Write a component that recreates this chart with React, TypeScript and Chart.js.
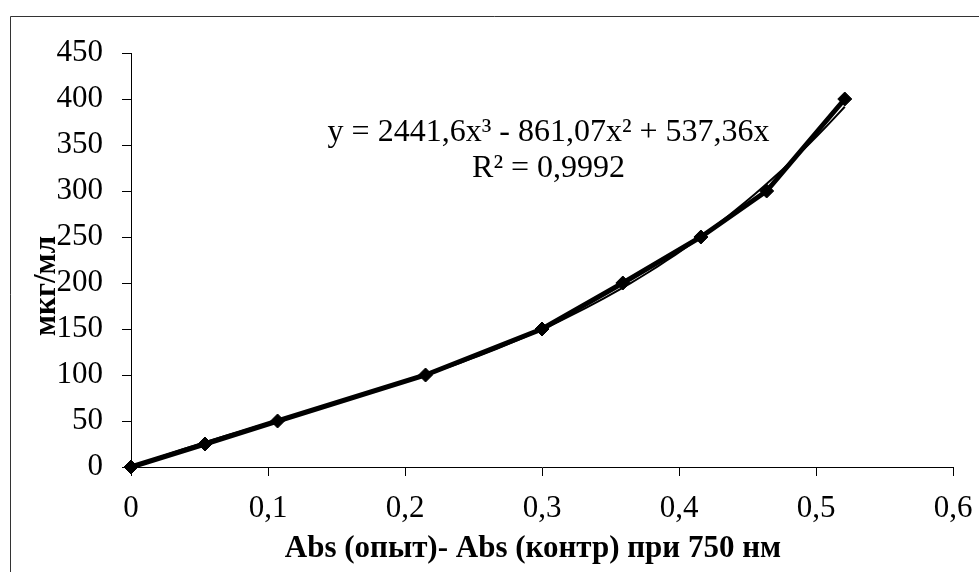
import React, { useEffect, useRef } from 'react';
import { Chart, registerables } from 'chart.js';

Chart.register(...registerables);

// ---- data ----
const absValues = [0, 0.054, 0.107, 0.215, 0.3, 0.359, 0.416, 0.464, 0.521];
const concValues = [0, 25, 50, 100, 150, 200, 250, 300, 400];
// polynomial trendline printed on the chart: c0 + c1 x + c2 x^2 + c3 x^3
const trendCoeffs = [0, 537.36, -861.07, 2441.6];
const xTickValues = [0, 0.1, 0.2, 0.3, 0.4, 0.5, 0.6];
const xTickLabels = ['0', '0,1', '0,2', '0,3', '0,4', '0,5', '0,6'];
const yTickValues = [0, 50, 100, 150, 200, 250, 300, 350, 400, 450];
const yTickLabels = ['0', '50', '100', '150', '200', '250', '300', '350', '400', '450'];
const xTitle = 'Abs (опыт)- Abs (контр) при 750 нм';
const yTitle = 'мкг/мл';
const equationLines = ['y = 2441,6x³ - 861,07x² + 537,36x', 'R² = 0,9992'];

const FONT = '"Liberation Serif", "Times New Roman", serif';

function trendPoints() {
  const xmax = Math.max(...absValues);
  const n = 80;
  const pts: { x: number; y: number }[] = [];
  for (let i = 0; i <= n; i++) {
    const x = (xmax * i) / n;
    let y = 0;
    for (let k = 0; k < trendCoeffs.length; k++) y += trendCoeffs[k] * Math.pow(x, k);
    pts.push({ x, y });
  }
  return pts;
}

const decorPlugin = {
  id: 'decor',
  afterDraw(chart: any) {
    const ctx = chart.ctx as CanvasRenderingContext2D;
    const area = chart.chartArea;
    ctx.save();
    // outer frame (only top and left edges fall inside the picture)
    ctx.strokeStyle = '#333';
    ctx.lineWidth = 1;
    ctx.beginPath();
    ctx.moveTo(10.5, chart.height);
    ctx.lineTo(10.5, 16.5);
    ctx.lineTo(chart.width, 16.5);
    ctx.stroke();

    ctx.fillStyle = '#000';
    // equation
    ctx.font = `32px ${FONT}`;
    ctx.textAlign = 'center';
    ctx.textBaseline = 'alphabetic';
    const eqX = area.left + (area.right - area.left) * 0.508;
    ctx.fillText(equationLines[0], eqX, 141);
    ctx.fillText(equationLines[1], eqX, 177);

    // x title
    ctx.font = `bold 31px ${FONT}`;
    ctx.fillText(xTitle, 533, 557);

    // y title
    ctx.translate(55, 286);
    ctx.rotate(-Math.PI / 2);
    ctx.fillText(yTitle, 0, 0);
    ctx.restore();
  },
};

export default function App() {
  const ref = useRef<HTMLCanvasElement | null>(null);
  useEffect(() => {
    if (!ref.current) return;
    const chart = new Chart(ref.current, {
      type: 'line',
      data: {
        datasets: [
          {
            label: 'trend',
            data: trendPoints(),
            borderColor: '#000',
            borderWidth: 2,
            pointRadius: 0,
            tension: 0,
            clip: false as any,
          },
          {
            label: 'мкг/мл',
            data: absValues.map((x, i) => ({ x, y: concValues[i] })),
            borderColor: '#000',
            backgroundColor: '#000',
            borderWidth: 5,
            pointStyle: 'rectRot',
            pointRadius: 7,
            pointBorderWidth: 1,
            pointBackgroundColor: '#000',
            pointBorderColor: '#000',
            tension: 0,
            clip: false as any,
          },
        ],
      },
      options: {
        animation: false,
        responsive: false,
        layout: { padding: { left: 0, top: 53, right: 26, bottom: 0 } },
        plugins: { legend: { display: false }, tooltip: { enabled: false } },
        scales: {
          x: {
            type: 'linear',
            min: 0,
            max: 0.6,
            afterBuildTicks: (s: any) => {
              s.ticks = xTickValues.map((v) => ({ value: v }));
            },
            afterFit: (s: any) => {
              s.height = 105;
              s.paddingLeft = 0;
              s.paddingRight = 0;
            },
            ticks: {
              callback: (_v: any, i: number) => xTickLabels[i],
              color: '#000',
              font: { family: FONT, size: 31 },
              padding: 14,
              maxRotation: 0,
            },
            grid: { drawOnChartArea: false, drawTicks: true, tickLength: 9, color: '#000' },
            border: { display: true, color: '#000', width: 1 },
          },
          y: {
            type: 'linear',
            min: 0,
            max: 450,
            afterBuildTicks: (s: any) => {
              s.ticks = yTickValues.map((v) => ({ value: v }));
            },
            afterFit: (s: any) => {
              s.width = 131;
              s.paddingTop = 0;
              s.paddingBottom = 0;
            },
            ticks: {
              callback: (_v: any, i: number) => yTickLabels[i],
              color: '#000',
              font: { family: FONT, size: 31 },
              padding: 19,
            },
            grid: { drawOnChartArea: false, drawTicks: true, tickLength: 9, color: '#000' },
            border: { display: true, color: '#000', width: 1 },
          },
        },
      },
      plugins: [decorPlugin],
    });
    return () => chart.destroy();
  }, []);
  return (
    <div style={{ position: 'fixed', left: 0, top: 0, width: 979, height: 572, background: '#fff' }}>
      <canvas ref={ref} width={979} height={572} style={{ display: 'block' }} />
    </div>
  );
}
